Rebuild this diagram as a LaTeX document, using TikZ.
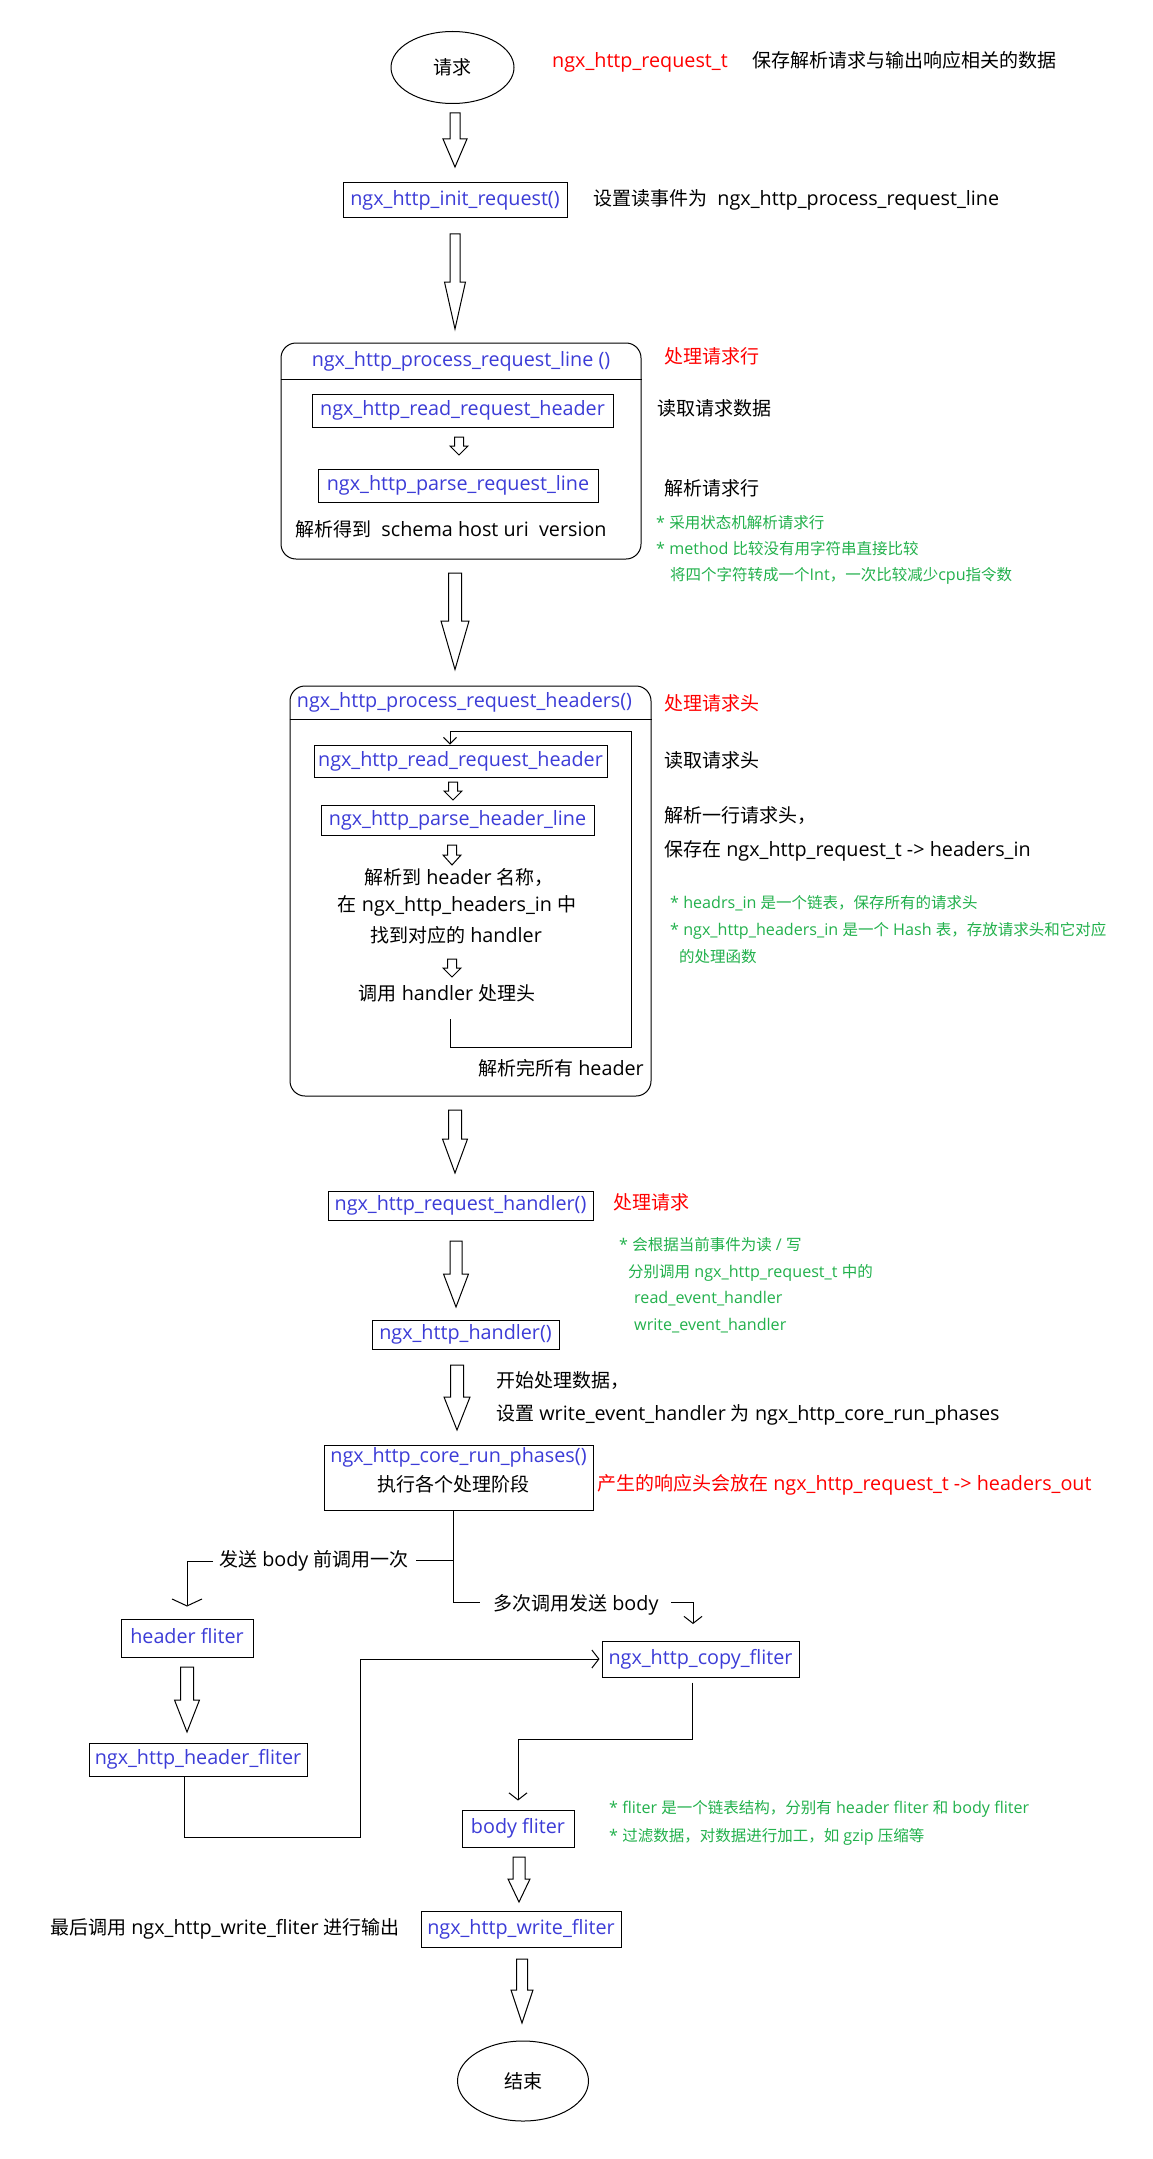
\documentclass[tikz,border=0pt]{standalone}
\usepackage{fontspec}
\setmainfont{Open Sans}[Scale=1.04]
\newfontfamily\cjkfont{Noto Sans CJK SC}
\usetikzlibrary{arrows.meta,shapes.geometric}
\XeTeXinterchartokenstate=1
\newXeTeXintercharclass\cjkclass
\newcount\cjkcnt
\def\setcjkrange#1#2{\cjkcnt=#1\relax\loop\XeTeXcharclass\cjkcnt=\cjkclass\relax\ifnum\cjkcnt<#2\relax\advance\cjkcnt by 1\relax\repeat}
\setcjkrange{"3000}{"303F}
\setcjkrange{"4E00}{"9FFF}
\setcjkrange{"FF00}{"FFEF}
\XeTeXinterchartoks 0 \cjkclass={\cjkfont}
\XeTeXinterchartoks 4095 \cjkclass={\cjkfont}
\XeTeXinterchartoks \cjkclass 0={\rmfamily}
\XeTeXinterchartoks \cjkclass 4095={\rmfamily}
\definecolor{fnblue}{RGB}{60,60,215}
\definecolor{fnred}{RGB}{255,0,0}
\definecolor{fngreen}{RGB}{34,177,76}
\newcommand\mainfs{\fontsize{19}{23}\selectfont}
\newcommand\notefs{\fontsize{15.5}{19}\selectfont}
\newcommand\blockarr[6]{%
  \draw[harrow] (#1-#5,#2) -- (#1+#5,#2) -- (#1+#5,#3) -- (#1+#6,#3) -- (#1,#4) -- (#1-#6,#3) -- (#1-#5,#3) -- cycle;}
\tikzset{
  fbox/.style={draw=black, line width=1pt, inner sep=0pt, text=fnblue, font=\mainfs, text height=14pt, text depth=4pt},
  lbl/.style={anchor=west, inner sep=0pt, font=\mainfs, text height=15pt, text depth=4pt},
  ctxt/.style={inner sep=0pt, font=\mainfs, text height=15pt, text depth=4pt},
  note/.style={anchor=west, inner sep=0pt, text=fngreen, font=\notefs, text height=12.5pt, text depth=2pt},
  circ/.style={draw, ellipse, line width=1pt, inner sep=0pt, font=\mainfs},
  bigbox/.style={draw, rounded corners=15pt, line width=1pt, inner sep=0pt},
  conn/.style={line width=1pt},
  harrow/.style={draw, line width=1pt, fill=white, line join=miter},
  tipn/.style={-{Straight Barb[length=7pt,width=18pt]}},
  tipw/.style={-{Straight Barb[length=7pt,width=30pt]}},
  tips/.style={-{Straight Barb[length=6.5pt,width=13pt]}}
}
\begin{document}
\begin{tikzpicture}[x=1pt,y=-1pt]
\fill[white] (0,0) rectangle (1152,2159);
\useasboundingbox (0,0) rectangle (1152,2159);

% start
\node[circ, minimum width=123pt, minimum height=72pt] (req) at (452.5,67.5) {请求};
\node[lbl, text=fnred] (reqt) at (552,62) {ngx\_http\_request\_t};
\node[lbl] (reqtd) at (752,62) {保存解析请求与输出响应相关的数据};
\blockarr{455}{113}{139}{167}{5}{12}

\node[fbox, minimum width=224pt, minimum height=35pt] (init) at (455,200.5) {ngx\_http\_init\_request()};
\node[lbl] (initd) at (593,200) {设置读事件为\ \ ngx\_http\_process\_request\_line};
\blockarr{455}{234}{282}{329}{5}{10.5}

% process request line
\node[bigbox, minimum width=360pt, minimum height=216pt] (p1) at (461,451) {};
\draw[conn] (p1.west |- 0,379) -- (p1.east |- 0,379);
\node[ctxt, text=fnblue] (p1t) at (461,361) {ngx\_http\_process\_request\_line ()};
\node[lbl, text=fnred] (p1r) at (664,358) {处理请求行};
\node[fbox, minimum width=301pt, minimum height=33pt] (rrh1) at (462.5,410.5) {ngx\_http\_read\_request\_header};
\node[lbl] (rrh1d) at (657,410) {读取请求数据};
\blockarr{459}{437}{446}{455}{4.5}{9}
\node[fbox, minimum width=280pt, minimum height=33pt] (prl) at (458,485.5) {ngx\_http\_parse\_request\_line};
\node[lbl] (prld) at (664,490) {解析请求行};
\node[lbl] (schema) at (295,531) {解析得到\ \ schema host uri\ \ version};
\node[note] (n1) at (656,523) {* 采用状态机解析请求行};
\node[note] (n2) at (656,549) {* method 比较没有用字符串直接比较};
\node[note] (n3) at (670,575) {将四个字符转成一个Int，一次比较减少cpu指令数};
\blockarr{455}{573}{621}{669.5}{6.5}{14}

% process request headers
\node[bigbox, minimum width=361pt, minimum height=410pt] (p2) at (470.5,891) {};
\draw[conn] (p2.west |- 0,719) -- (p2.east |- 0,719);
\node[ctxt, text=fnblue] (p2t) at (464.5,702) {ngx\_http\_process\_request\_headers()};
\node[lbl, text=fnred] (p2r) at (664,705) {处理请求头};
\node[fbox, minimum width=293pt, minimum height=32pt] (rrh2) at (460.5,761) {ngx\_http\_read\_request\_header};
\node[lbl] (rrh2d) at (664,762) {读取请求头};
\blockarr{453}{782}{791}{800}{4.5}{9}
\node[fbox, minimum width=273pt, minimum height=30pt] (phl) at (457.5,820) {ngx\_http\_parse\_header\_line};
\node[lbl] (phld1) at (664,817) {解析一行请求头，};
\node[lbl] (phld2) at (664,851) {保存在 ngx\_http\_request\_t -> headers\_in};
\blockarr{452}{845}{855}{865}{4.5}{9}
\node[ctxt] (h1) at (459,879) {解析到 header 名称，};
\node[ctxt] (h2) at (457,906) {在 ngx\_http\_headers\_in 中};
\node[ctxt] (h3) at (456,937) {找到对应的 handler};
\blockarr{452}{959}{968}{977}{4.5}{9}
\node[ctxt] (h4) at (447,995) {调用 handler 处理头};
\coordinate (lp0) at (450,1019);
\draw[conn, tips] (lp0) -- (450,1047) -- (631,1047) -- (631,731) -- (450,731) -- (rrh2.north -| lp0);
\node[lbl] (hall) at (478,1070) {解析完所有 header};
\node[note] (n4) at (670,903) {* headrs\_in 是一个链表，保存所有的请求头};
\node[note] (n5) at (670,930) {* ngx\_http\_headers\_in 是一个 Hash 表，存放请求头和它对应};
\node[note] (n6) at (679,957) {的处理函数};
\blockarr{455}{1110}{1139}{1173}{6.5}{12.5}

% request handler
\node[fbox, minimum width=265pt, minimum height=29pt] (reqh) at (460.5,1205.5) {ngx\_http\_request\_handler()};
\node[lbl, text=fnred] (reqhd) at (613,1204) {处理请求};
\blockarr{456}{1241}{1274}{1307}{6}{12.5}
\node[note] (n7) at (619,1245) {* 会根据当前事件为读 / 写};
\node[note] (n8) at (628,1272) {分别调用 ngx\_http\_request\_t 中的};
\node[note] (n9) at (634,1298) {read\_event\_handler};
\node[note] (n10) at (634,1325) {write\_event\_handler};
\node[fbox, minimum width=187pt, minimum height=29pt] (hdl) at (465.5,1334.5) {ngx\_http\_handler()};
\blockarr{457}{1365}{1397}{1430}{6.5}{13}
\node[lbl] (hdld1) at (496,1382) {开始处理数据，};
\node[lbl] (hdld2) at (496,1415) {设置 write\_event\_handler 为 ngx\_http\_core\_run\_phases};

% core run phases
\node[fbox, minimum width=269pt, minimum height=65pt] (crp) at (458.5,1477.5) {};
\node[ctxt, text=fnblue] (crpt) at (458.5,1457) {ngx\_http\_core\_run\_phases()};
\node[ctxt] (crpd) at (453,1486) {执行各个处理阶段};
\node[lbl, text=fnred] (crpr) at (597,1485) {产生的响应头会放在 ngx\_http\_request\_t -> headers\_out};

% split
\coordinate (sp1) at (453,1560);
\coordinate (sp2) at (453,1602);
\draw[conn] (crp.south -| sp1) -- (sp2) -- (480,1602);
\draw[conn] (sp1) -- (416,1560);
\node[lbl] (lb) at (219,1561) {发送 body 前调用一次};
\node[lbl] (rb) at (493,1605) {多次调用发送 body};
\coordinate (lbs) at (213,1561);
\coordinate (rbs) at (671,1602);
\coordinate (cpin) at (693,1641);

\node[fbox, minimum width=132pt, minimum height=38pt] (hf) at (187,1638) {header fliter};
\draw[conn, tipw, shorten >=12pt] (lbs) -| (hf.north);
\blockarr{187}{1667}{1700}{1732}{6.5}{12.5}
\node[fbox, minimum width=218pt, minimum height=33pt] (nhf) at (198,1759.5) {ngx\_http\_header\_fliter};

\node[fbox, minimum width=197pt, minimum height=36pt] (copy) at (700.5,1659) {ngx\_http\_copy\_fliter};
\draw[conn, tipn, shorten >=17pt] (rbs) -| (cpin);
\draw[conn, tipn, shorten >=2pt] (nhf.south -| 184,0) -- (184,1837) -- (360,1837) |- (copy.west);

\node[fbox, minimum width=112pt, minimum height=37pt] (body) at (518,1828.5) {body fliter};
\draw[conn, tipn, shorten <=5pt, shorten >=9pt] (copy.south -| 692,0) -- (692,1739) -| (body.north);
\node[note] (n11) at (609,1808) {* fliter 是一个链表结构，分别有 header fliter 和 body fliter};
\node[note] (n12) at (609,1836) {* 过滤数据，对数据进行加工，如 gzip 压缩等};
\blockarr{519}{1857}{1879}{1902}{6}{11}

\node[fbox, minimum width=200pt, minimum height=36pt] (write) at (521,1929) {ngx\_http\_write\_fliter};
\node[lbl] (writed) at (50,1929) {最后调用 ngx\_http\_write\_fliter 进行输出};
\blockarr{522}{1959}{1990}{2023}{5.5}{11}

\node[circ, minimum width=131pt, minimum height=80pt] (end) at (523,2081) {结束};
\end{tikzpicture}
\end{document}
